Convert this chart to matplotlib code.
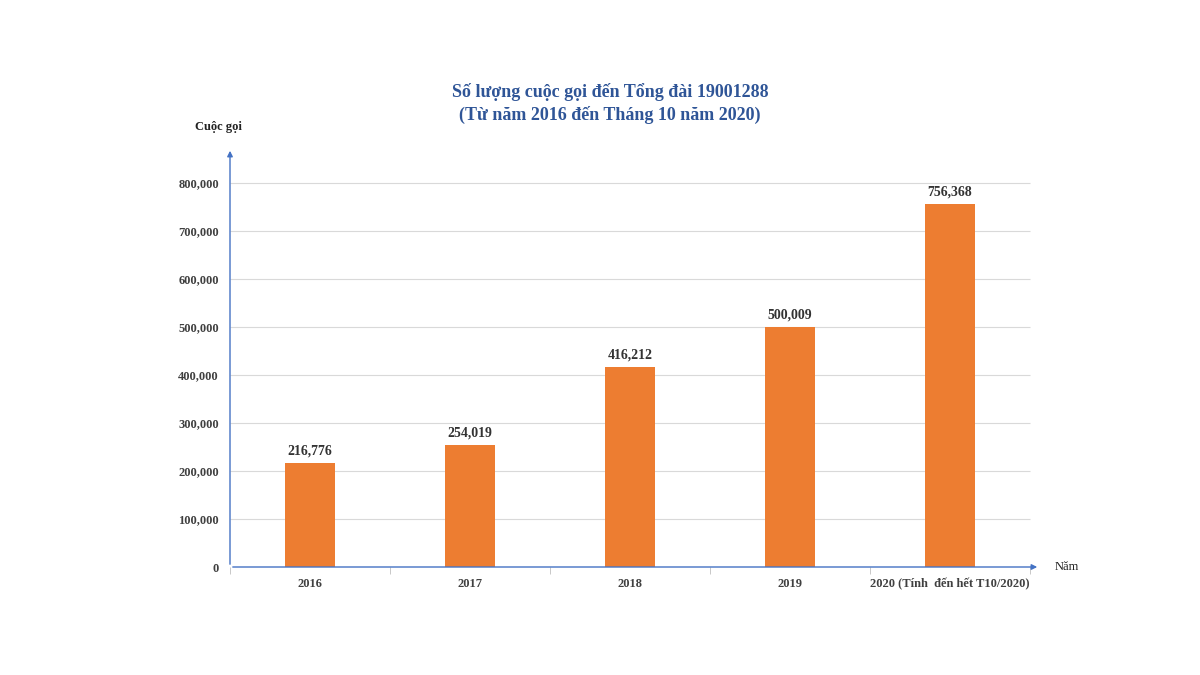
import matplotlib
matplotlib.use("Agg")
import matplotlib.pyplot as plt

categories = ["2016", "2017", "2018", "2019", "2020 (Tính  đến hết T10/2020)"]
values = [216776, 254019, 416212, 500009, 756368]
yticks = [0, 100000, 200000, 300000, 400000, 500000, 600000, 700000, 800000]

plt.rcParams["font.family"] = "Liberation Serif"
plt.rcParams["font.weight"] = "bold"
fig = plt.figure(figsize=(12, 6.75), dpi=100)
ax = fig.add_axes([230/1200, 1-567/675, 810/1200, (567-148)/675])
x = list(range(len(categories)))
ax.bar(x, values, width=0.31, color="#ED7D31", zorder=3)
for xi, v in zip(x, values):
    ax.text(xi, v + 12000, f"{v:,}", ha="center", va="bottom", fontsize=10, fontweight="bold", color="#333333")
ax.set_xlim(-0.5, 4.5625)
ax.set_ylim(0, 873000)
ax.hlines(yticks[1:], -0.5, 4.5, color="#D9D9D9", lw=0.8, zorder=1)
ax.set_yticks(yticks)
ax.set_yticklabels([f"{t:,}" for t in yticks], fontsize=9, fontweight="bold", color="#404040")
ax.set_xticks(x)
ax.set_xticklabels(categories, fontsize=9, fontweight="bold", color="#404040")
ax.tick_params(axis="both", length=0, pad=8)
ax.set_xticks([i + 0.5 for i in range(-1, 5)], minor=True)
ax.tick_params(axis="x", which="minor", length=5, color="#BFBFBF")
for s in ax.spines.values():
    s.set_visible(False)
ax.annotate("", xy=(-0.5, 873000), xytext=(-0.5, 0), xycoords="data",
            arrowprops=dict(arrowstyle="-|>", color="#4472C4", lw=1, mutation_scale=8), annotation_clip=False)
ax.annotate("", xy=(4.5625, 0), xytext=(-0.5, 0), xycoords="data",
            arrowprops=dict(arrowstyle="-|>", color="#4472C4", lw=1, mutation_scale=8), annotation_clip=False)
fig.text(195/1200, 1-127/675, "Cuộc gọi", fontsize=9, fontweight="bold", ha="left", va="center", color="#222222")
fig.text(1055/1200, 1-567/675, "Năm", fontsize=9, ha="left", va="center", color="#222222", fontweight="normal")
fig.text(610/1200, 1-92/675, "Số lượng cuộc gọi đến Tổng đài 19001288", fontsize=13, fontweight="bold", ha="center", va="center", color="#2F5597")
fig.text(610/1200, 1-115/675, "(Từ năm 2016 đến Tháng 10 năm 2020)", fontsize=13, fontweight="bold", ha="center", va="center", color="#2F5597")
fig.savefig("out.png", dpi=100)
